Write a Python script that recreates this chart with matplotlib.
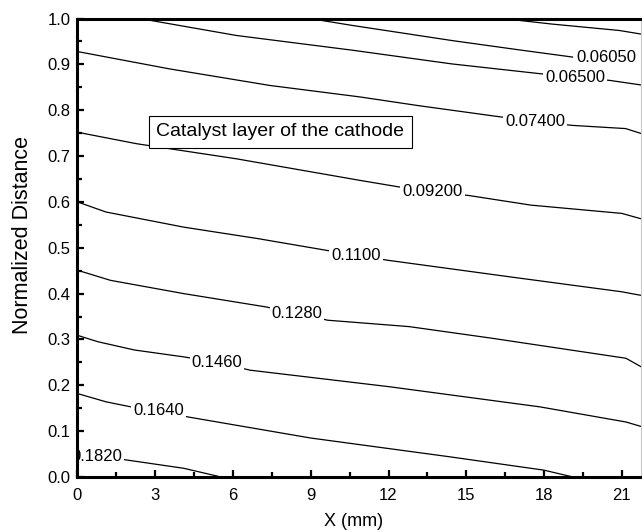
import numpy as np
import matplotlib.pyplot as plt
from matplotlib.ticker import MultipleLocator, FormatStrFormatter

plt.rcParams["font.family"] = ["Liberation Sans", "DejaVu Sans"]

# contour levels (oxygen fraction) and traced iso-lines, x in mm, y normalized
levels = [0.0560, 0.0605, 0.0650, 0.0740, 0.0920, 0.1100, 0.1280, 0.1460, 0.1640, 0.1820]

x_0560 = [16.4, 18.3, 20.9, 21.76]
y_0560 = [1.0, 0.988, 0.974, 0.966]

x_0605 = [8.97, 10.6, 14.45, 17.0, 19.1]
y_0605 = [1.0, 0.985, 0.952, 0.932, 0.916]

x_0650 = [2.41, 6.14, 10.6, 14.45, 17.8, 19.2, 20.55, 21.76]
y_0650 = [1.0, 0.963, 0.931, 0.901, 0.880, 0.872, 0.865, 0.855]

x_0740 = [0.0, 3.57, 7.43, 10.9, 13.16, 16.25, 17.67, 19.08, 21.15, 21.76]
y_0740 = [0.928, 0.890, 0.854, 0.829, 0.810, 0.786, 0.776, 0.767, 0.760, 0.749]

x_0920 = [0.0, 2.28, 6.14, 10.9, 12.48, 13.7, 15.1, 17.5, 21.0, 21.76]
y_0920 = [0.752, 0.727, 0.694, 0.647, 0.632, 0.623, 0.614, 0.593, 0.575, 0.563]

x_1100 = [0.0, 1.10, 4.1, 6.96, 9.65, 10.74, 11.94, 16.76, 21.0, 21.76]
y_1100 = [0.600, 0.578, 0.545, 0.520, 0.494, 0.484, 0.473, 0.436, 0.404, 0.396]

x_1280 = [0.0, 1.27, 4.1, 7.27, 8.47, 9.65, 12.8, 15.95, 21.16, 21.76]
y_1280 = [0.451, 0.429, 0.400, 0.371, 0.357, 0.342, 0.328, 0.303, 0.259, 0.240]

x_1460 = [0.0, 0.79, 2.2, 4.1, 5.38, 6.66, 12.02, 17.84, 21.16, 21.76]
y_1460 = [0.309, 0.295, 0.277, 0.262, 0.250, 0.233, 0.197, 0.153, 0.120, 0.110]

x_1640 = [0.0, 1.1, 2.06, 3.13, 4.26, 9.0, 14.37, 17.99, 19.12]
y_1640 = [0.182, 0.164, 0.153, 0.146, 0.131, 0.085, 0.044, 0.015, 0.0]

x_1820 = [0.0, 0.75, 1.91, 4.1, 5.54]
y_1820 = [0.055, 0.045, 0.037, 0.019, 0.0]

traces = [(x_0560, y_0560), (x_0605, y_0605), (x_0650, y_0650), (x_0740, y_0740),
          (x_0920, y_0920), (x_1100, y_1100), (x_1280, y_1280), (x_1460, y_1460),
          (x_1640, y_1640), (x_1820, y_1820)]

# where each level gets its inline label (None = unlabeled)
label_at = [None, 19.25, 19.2, 17.67, 13.7, 10.74, 8.47, 5.38, 3.13, 0.75]

fig = plt.figure(figsize=(6.42, 5.30), dpi=100)
ax = fig.add_axes([0.1207, 0.1, 0.8785, 0.865])

for lev, (xs, ys), lx in zip(levels, traces, label_at):
    ax.plot(xs, ys, color="black", linewidth=0.9, zorder=2)
    if lx is None:
        continue
    ly = np.interp(lx, xs, ys)
    # a label sitting past the end of its line starts there instead of centring
    ha = "left" if lx > xs[-1] else "center"
    ax.text(lx, ly, f"{lev:#.4g}", fontsize=12, ha=ha, va="center", zorder=2.2,
            clip_on=True,
            bbox=dict(boxstyle="square,pad=0.12", facecolor="white", edgecolor="none"))

ax.text(7.83, 0.753, "Catalyst layer of the cathode", fontsize=14, ha="center", va="center",
        zorder=3, bbox=dict(boxstyle="square,pad=0.4", facecolor="white",
                            edgecolor="black", linewidth=0.8))

ax.set_xlim(0, 21.76)
ax.set_ylim(0, 1.0)
ax.xaxis.set_major_locator(MultipleLocator(3))
ax.xaxis.set_minor_locator(MultipleLocator(1.5))
ax.yaxis.set_major_locator(MultipleLocator(0.1))
ax.yaxis.set_minor_locator(MultipleLocator(0.05))
ax.yaxis.set_major_formatter(FormatStrFormatter("%.1f"))

ax.tick_params(axis="both", which="major", direction="in", length=5, width=1.6, labelsize=12)
ax.tick_params(axis="both", which="minor", direction="in", length=3.5, width=1.6)
ax.tick_params(axis="x", which="major", pad=8)
ax.tick_params(axis="y", which="major", pad=5)
ax.tick_params(top=False, right=False, which="both")

for side in ["left", "bottom", "top"]:
    ax.spines[side].set_linewidth(2.2)
ax.spines["right"].set_linewidth(0.8)
ax.spines["right"].set_color("#c8c8c8")

ax.set_xlabel("X (mm)", fontsize=13)
ax.set_ylabel("Normalized Distance", fontsize=15.5)
ax.xaxis.set_label_coords(0.49, -0.078)
ax.yaxis.set_label_coords(-0.078, 0.528)

fig.savefig("out.png", dpi=100)
